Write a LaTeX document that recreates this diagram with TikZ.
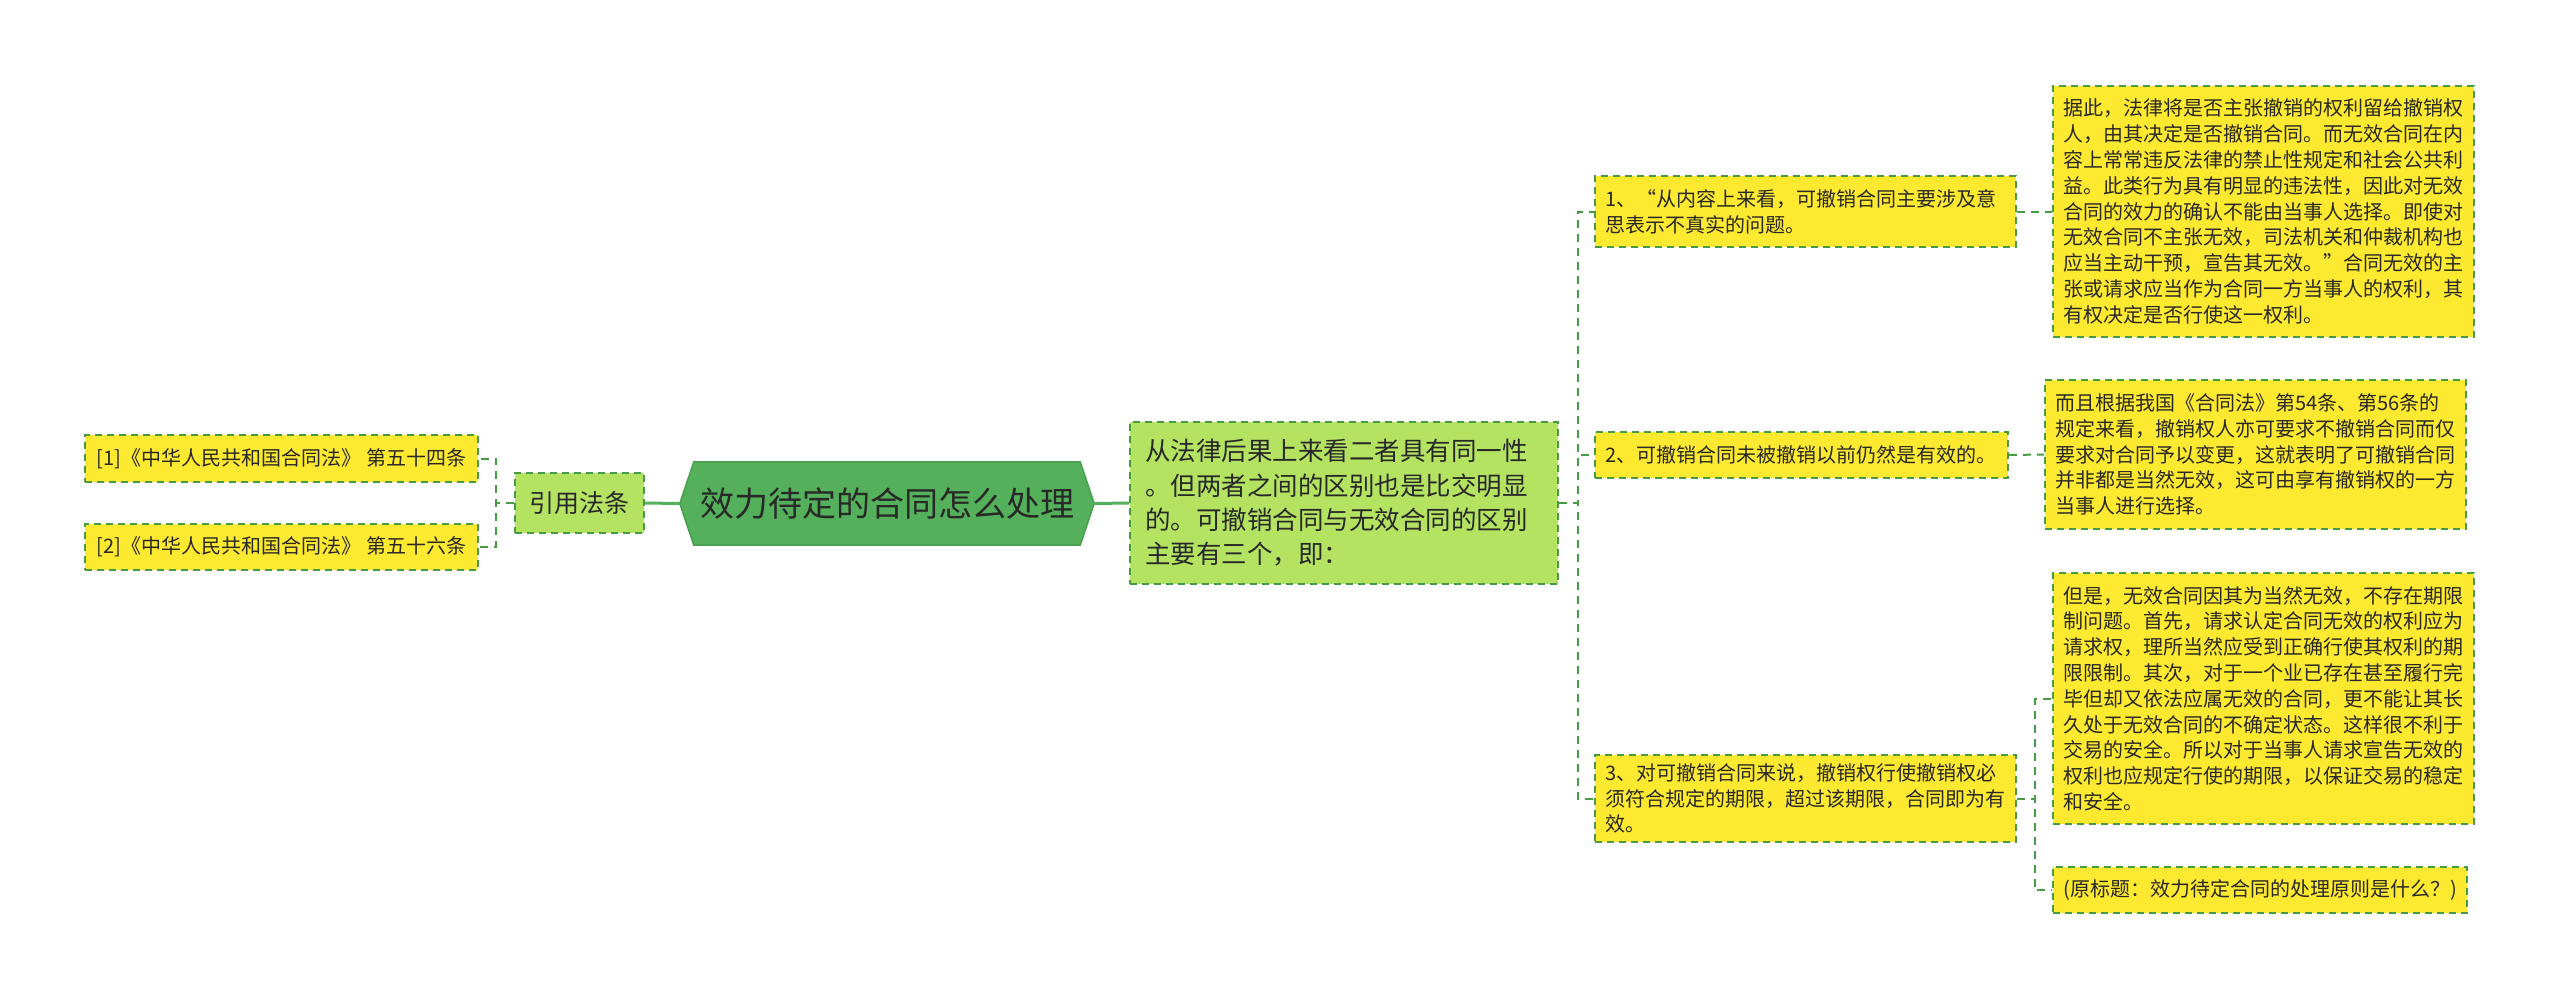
\documentclass[tikz,border=0pt]{standalone}
\usepackage{fontspec}
\setmainfont{Noto Sans CJK SC}
\usetikzlibrary{backgrounds,calc}
\definecolor{hexgreen}{RGB}{84,176,90}
\definecolor{hexborder}{RGB}{70,160,78}
\definecolor{lgreen}{RGB}{180,227,98}
\definecolor{yel}{RGB}{253,233,48}
\definecolor{bordgreen}{RGB}{70,155,68}
\definecolor{txt}{RGB}{40,40,40}
\tikzset{
  box/.style={draw=bordgreen, line width=1.8pt, dash pattern=on 7pt off 5pt,
    text=txt, inner xsep=10pt, inner ysep=0pt, align=left,
    font=\fontsize{20}{25.8}\selectfont},
  ybox/.style={box, fill=yel},
  gbox/.style={box, fill=lgreen},
  conn/.style={draw=bordgreen, line width=2pt, dash pattern=on 8pt off 6pt},
  solidconn/.style={draw=hexgreen, line width=3pt},
}
\begin{document}
\begin{tikzpicture}[x=1pt,y=-1pt]
\useasboundingbox (0,0) rectangle (2560,999);
\begin{scope}[on background layer]
\fill[white] (0,0) rectangle (2560,999);
\end{scope}

% root
\node[text=txt, font=\fontsize{34}{40}\selectfont, minimum width=414pt, minimum height=83pt, inner sep=0pt] (root) at (887,503.5) {效力待定的合同怎么处理};
\begin{scope}[on background layer]
\filldraw[fill=hexgreen, draw=hexborder, line width=1.5pt]
  ([xshift=14pt]root.north west) -- ([xshift=-14pt]root.north east) -- (root.east)
  -- ([xshift=-14pt]root.south east) -- ([xshift=14pt]root.south west) -- (root.west) -- cycle;
\end{scope}

% left branch
\node[gbox, font=\fontsize{25}{30}\selectfont, minimum width=129pt, minimum height=60pt, align=center] (cite) at (579.5,503) {引用法条};
\node[ybox, minimum width=393pt, minimum height=47pt, align=center] (n1) at (281.5,458.5) {[1]《中华人民共和国合同法》 第五十四条};
\node[ybox, minimum width=393pt, minimum height=46pt, align=center] (n2) at (281.5,547) {[2]《中华人民共和国合同法》 第五十六条};

% level 1 right
\node[gbox, font=\fontsize{25.5}{34.4}\selectfont, inner xsep=15pt, text width=398pt, minimum height=162pt] (l1) at (1344,503) {从法律后果上来看二者具有同一性\\。但两者之间的区别也是比交明显\\的。可撤销合同与无效合同的区别\\主要有三个，即：};

% level 2
\node[ybox, text width=401pt, minimum height=71pt] (c1) at (1805.5,211.5) {1、“从内容上来看，可撤销合同主要涉及意\\思表示不真实的问题。};
\node[ybox, text width=393pt, minimum height=46pt] (c2) at (1801.5,455) {2、可撤销合同未被撤销以前仍然是有效的。};
\node[ybox, text width=401pt, minimum height=87pt] (c3) at (1805.5,798.5) {3、对可撤销合同来说，撤销权行使撤销权必\\须符合规定的期限，超过该期限，合同即为有\\效。};

% level 3
\node[ybox, text width=401pt, minimum height=251pt] (d1) at (2263.5,211.5) {据此，法律将是否主张撤销的权利留给撤销权\\人，由其决定是否撤销合同。而无效合同在内\\容上常常违反法律的禁止性规定和社会公共利\\益。此类行为具有明显的违法性，因此对无效\\合同的效力的确认不能由当事人选择。即使对\\无效合同不主张无效，司法机关和仲裁机构也\\应当主动干预，宣告其无效。”合同无效的主\\张或请求应当作为合同一方当事人的权利，其\\有权决定是否行使这一权利。};
\node[ybox, text width=401pt, minimum height=149pt] (d2) at (2255.5,454.5) {而且根据我国《合同法》第54条、第56条的\\规定来看，撤销权人亦可要求不撤销合同而仅\\要求对合同予以变更，这就表明了可撤销合同\\并非都是当然无效，这可由享有撤销权的一方\\当事人进行选择。};
\node[ybox, text width=401pt, minimum height=251pt] (d3) at (2263.5,698.5) {但是，无效合同因其为当然无效，不存在期限\\制问题。首先，请求认定合同无效的权利应为\\请求权，理所当然应受到正确行使其权利的期\\限限制。其次，对于一个业已存在甚至履行完\\毕但却又依法应属无效的合同，更不能让其长\\久处于无效合同的不确定状态。这样很不利于\\交易的安全。所以对于当事人请求宣告无效的\\权利也应规定行使的期限，以保证交易的稳定\\和安全。};
\node[ybox, minimum width=414pt, minimum height=46pt, align=center] (d4) at (2260,890) {(原标题：效力待定合同的处理原则是什么？)};

% connectors
\draw[solidconn] (cite.east) -- (root.west);
\draw[solidconn] (root.east) -- (l1.west);
\draw[conn] (cite.west) -- ([xshift=-18pt]cite.west) |- (n1.east);
\draw[conn] (cite.west) -- ([xshift=-18pt]cite.west) |- (n2.east);
\draw[conn] (l1.east) -- ([xshift=19pt]l1.east) |- (c1.west);
\draw[conn] (l1.east) -- ([xshift=19pt]l1.east) |- (c2.west);
\draw[conn] (l1.east) -- ([xshift=19pt]l1.east) |- (c3.west);
\draw[conn] (c1.east) -- (d1.west);
\draw[conn] (c2.east) -- (d2.west);
\draw[conn] (c3.east) -- ([xshift=18pt]c3.east) |- (d3.west);
\draw[conn] (c3.east) -- ([xshift=18pt]c3.east) |- (d4.west);
\end{tikzpicture}
\end{document}
